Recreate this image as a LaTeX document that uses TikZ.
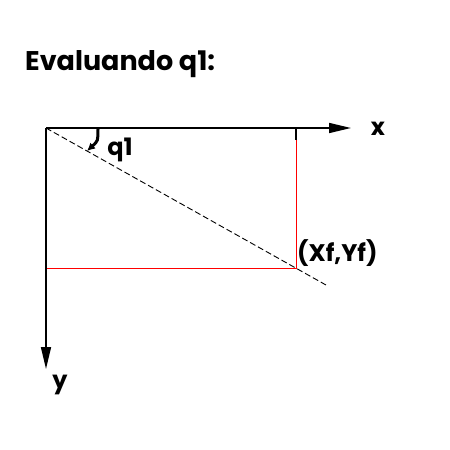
\documentclass[tikz,border=0pt]{standalone}
\usepackage{fontspec}
\setmainfont{Poppins}[BoldFont={* Bold}]
\usetikzlibrary{arrows.meta}
\tikzset{
  axis/.style={-{Triangle[length=22pt,width=10pt]}, line width=1.6pt, draw=black},
  frame/.style={line width=1pt, draw=red},
  ray/.style={dashed, line width=0.9pt, dash pattern=on 6pt off 3pt},
  turn/.style={-{Latex[length=8pt,width=8pt]}, line width=3pt},
  label/.style={font=\bfseries\fontsize{24}{27}\selectfont, inner sep=0pt},
}
\begin{document}
\begin{tikzpicture}[x=1pt,y=-1pt]
  \useasboundingbox (0,0) rectangle (450,450);
  % title
  \node[label, anchor=base west, font=\bfseries\fontsize{27}{30}\selectfont] (title) at (25,70) {Evaluando q1:};
  % axes
  \coordinate (o) at (46,128);
  \coordinate (xend) at (351,128);
  \coordinate (yend) at (46,369);
  \coordinate (pf) at (296,268);
  \coordinate (top) at (296,128);
  \coordinate (left) at (46,268);
  \coordinate (rayend) at (326,285);
  \draw[frame] (top) -- (pf) -- (left);
  \draw[line width=1.6pt] (top) -- ++(0,12);
  \draw[ray] (o) -- (rayend);
  \draw[axis] (o) -- (xend);
  \draw[axis] (o) -- (yend);
  \node[label] (xlab) at (378,129) {x};
  \node[label] (ylab) at (60,385) {y};
  % angle
  \coordinate (q1start) at (98,129);
  \coordinate (q1end) at (87,151);
  \draw[turn] (q1start) .. controls (98,141) .. (q1end);
  \node[label] (q1lab) at (120,150) {q1};
  \node[label, anchor=west] (pflab) at (297,253) {(Xf,Yf)};
\end{tikzpicture}
\end{document}
